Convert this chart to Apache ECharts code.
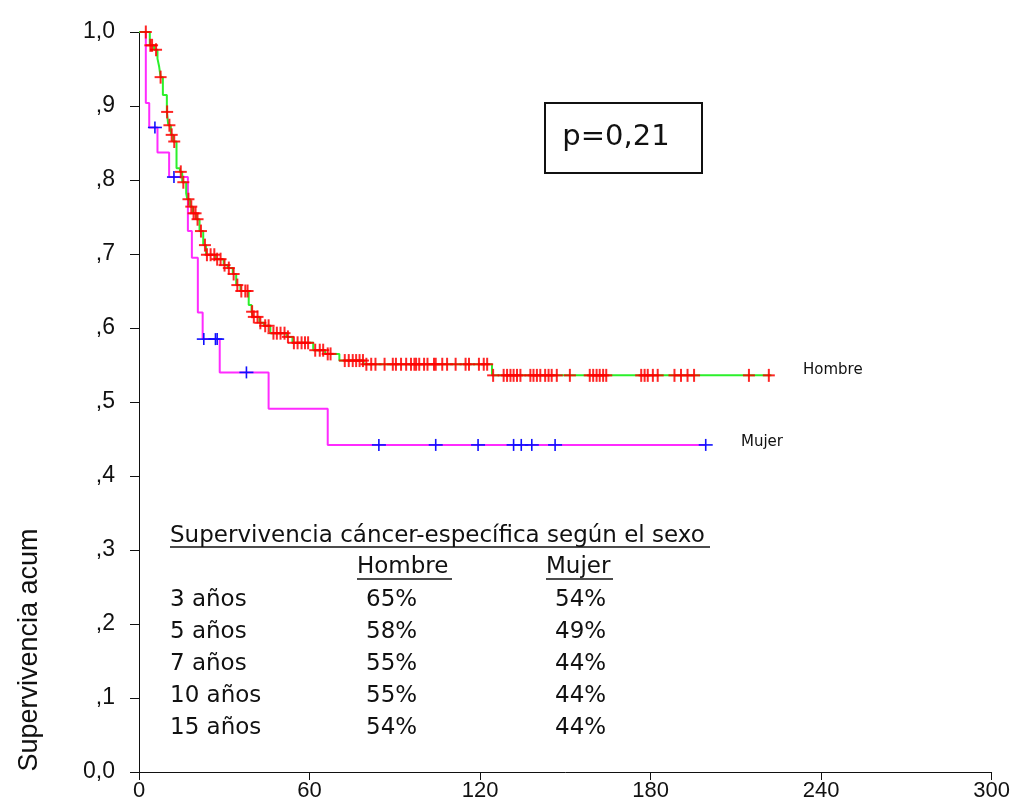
<!DOCTYPE html>
<html>
<head>
<meta charset="utf-8">
<script src="https://cdn.jsdelivr.net/npm/echarts@6/dist/echarts.min.js"></script>
<style>
  html, body { margin: 0; padding: 0; background: #fff; }
  #chart { width: 1013px; height: 809px; }
</style>
</head>
<body>
<div id="chart"></div>
<script>
// Kaplan-Meier: tiempos (meses) de cada escalón y nivel de supervivencia tras él
var hombreTimes  = [0, 3.8, 5.3, 6.5, 7.1, 7.6, 8.4, 9.8, 10.3, 11.2, 12.0, 13.2, 14.4, 15.2, 16.6, 17.0, 18.0, 19.0, 20.2, 21.3, 22.6, 23.6, 27.0, 29.8, 31.2, 33.0, 34.2, 35.7, 38.6, 39.6, 40.1, 42.4, 44.0, 46.2, 52.0, 54.0, 61.3, 65.5, 70.5, 79.0, 124.2];
var hombreLevels = [1.0, 0.982, 0.976, 0.964, 0.953, 0.939, 0.915, 0.892, 0.874, 0.861, 0.852, 0.816, 0.811, 0.797, 0.782, 0.774, 0.764, 0.755, 0.747, 0.731, 0.712, 0.699, 0.693, 0.685, 0.681, 0.673, 0.658, 0.650, 0.631, 0.622, 0.615, 0.607, 0.603, 0.593, 0.588, 0.580, 0.570, 0.565, 0.556, 0.551, 0.536];
var hombreEnd = 222.5;
var hombreCensored = [2.4, 4.0, 4.6, 6.0, 7.6, 9.9, 10.7, 11.5, 12.4, 14.7, 15.6, 17.4, 18.4, 19.2, 19.9, 20.6, 21.8, 23.2, 23.9, 25.2, 26.5, 27.5, 28.7, 30.1, 31.6, 33.3, 34.6, 36.0, 37.4, 38.2, 39.8, 40.4, 41.7, 42.7, 44.4, 45.6, 47.3, 48.5, 49.8, 51.2, 52.4, 54.5, 55.8, 57.2, 58.4, 59.5, 62.0, 63.6, 64.8, 66.4, 67.4, 72.4, 73.8, 75.2, 76.4, 77.6, 78.8, 80.0, 81.7, 83.2, 86.4, 89.3, 90.4, 92.2, 94.0, 95.7, 96.9, 97.5, 98.6, 100.3, 101.5, 103.8, 104.4, 106.7, 108.4, 111.4, 114.9, 116.1, 119.6, 121.3, 122.5, 124.6, 128.3, 129.5, 130.7, 131.8, 133.0, 134.2, 137.7, 138.8, 140.0, 141.2, 142.9, 144.1, 145.2, 147.0, 151.6, 158.6, 159.8, 161.0, 162.1, 163.3, 164.4, 176.7, 177.9, 179.0, 180.8, 182.5, 188.4, 190.7, 193.0, 195.3, 214.6, 221.6];

var mujerTimes  = [0, 2.4, 3.6, 6.5, 10.6, 17.2, 18.6, 20.7, 22.4, 28.4, 45.6, 66.4];
var mujerLevels = [1.0, 0.904, 0.871, 0.837, 0.804, 0.731, 0.695, 0.621, 0.585, 0.540, 0.491, 0.442];
var mujerEnd = 199.4;
var mujerCensored = [5.6, 12.3, 22.8, 26.9, 27.5, 37.8, 84.4, 104.4, 119.3, 131.8, 134.5, 138.2, 146.4, 199.4];

var xTicks = [0, 60, 120, 180, 240, 300];

var tableTitle = 'Supervivencia cáncer-específica según el sexo';
var tableGroups = ['Hombre', 'Mujer'];
var tableYears = ['3 años', '5 años', '7 años', '10 años', '15 años'];
var hombrePct = ['65%', '58%', '55%', '55%', '54%'];
var mujerPct = ['54%', '49%', '44%', '44%', '44%'];
var pValue = 'p=0,21';

function stepData(times, levels, end) {
  var d = [];
  for (var i = 0; i < times.length; i++) d.push([times[i], levels[i]]);
  d.push([end, levels[levels.length - 1]]);
  return d;
}
function levelAt(times, levels, t) {
  var v = levels[0];
  for (var i = 0; i < times.length; i++) if (times[i] <= t) v = levels[i];
  return v;
}
function censorData(times, levels, cens) {
  return cens.map(function (t) { return [t, levelAt(times, levels, t)]; });
}
function plusRenderer(color, w, h, lw) {
  return function (params, api) {
    var p = api.coord([api.value(0), api.value(1)]);
    return {
      type: 'group',
      children: [
        { type: 'line', shape: { x1: p[0] - w / 2, y1: p[1], x2: p[0] + w / 2, y2: p[1] }, style: { stroke: color, lineWidth: lw } },
        { type: 'line', shape: { x1: p[0], y1: p[1] - h / 2, x2: p[0], y2: p[1] + h / 2 }, style: { stroke: color, lineWidth: lw } }
      ]
    };
  };
}

var textFont = "'DejaVu Sans', sans-serif";
var axisFont = "'Liberation Sans', Arial, sans-serif";
var graphics = [];

var rowY0 = 589, rowStep = 32;
graphics.push({ type: 'text', x: 170, y: 525, style: { text: tableTitle, font: '23px ' + textFont, fill: '#111' } });
graphics.push({ type: 'line', shape: { x1: 170, y1: 547, x2: 710, y2: 547 }, style: { stroke: '#111', lineWidth: 1.5 } });
graphics.push({ type: 'text', x: 357, y: 556, style: { text: tableGroups[0], font: '23px ' + textFont, fill: '#111' } });
graphics.push({ type: 'line', shape: { x1: 357, y1: 579, x2: 452, y2: 579 }, style: { stroke: '#111', lineWidth: 1.5 } });
graphics.push({ type: 'text', x: 546, y: 556, style: { text: tableGroups[1], font: '23px ' + textFont, fill: '#111' } });
graphics.push({ type: 'line', shape: { x1: 546, y1: 579, x2: 613, y2: 579 }, style: { stroke: '#111', lineWidth: 1.5 } });
tableYears.forEach(function (yr, i) {
  var y = rowY0 + i * rowStep;
  graphics.push({ type: 'text', x: 170, y: y, style: { text: yr, font: '23px ' + textFont, fill: '#111' } });
  graphics.push({ type: 'text', x: 366, y: y, style: { text: hombrePct[i], font: '23px ' + textFont, fill: '#111' } });
  graphics.push({ type: 'text', x: 555, y: y, style: { text: mujerPct[i], font: '23px ' + textFont, fill: '#111' } });
});
// recuadro del valor p
graphics.push({ type: 'rect', shape: { x: 545, y: 103, width: 157, height: 70 }, style: { fill: '#fff', stroke: '#111', lineWidth: 2 } });
graphics.push({ type: 'text', x: 616, y: 137, style: { text: pValue, font: '29px ' + textFont, fill: '#111', align: 'center', verticalAlign: 'middle' } });
// etiquetas de las curvas
graphics.push({ type: 'text', x: 803, y: 370, style: { text: 'Hombre', font: '15px ' + textFont, fill: '#111', verticalAlign: 'middle' } });
graphics.push({ type: 'text', x: 741, y: 442, style: { text: 'Mujer', font: '15px ' + textFont, fill: '#111', verticalAlign: 'middle' } });
// título del eje Y
graphics.push({ type: 'text', x: 30, y: 650, rotation: Math.PI / 2, style: { text: 'Supervivencia acum', font: '27px ' + axisFont, fill: '#111', align: 'center', verticalAlign: 'middle' } });

var myChart = echarts.init(document.getElementById('chart'));

var option = {
  animation: false,
  backgroundColor: '#fff',
  grid: { left: 139, right: 17, top: 32, bottom: 37 },
  xAxis: {
    type: 'value', min: xTicks[0], max: xTicks[xTicks.length - 1], interval: 60,
    axisLine: { lineStyle: { color: '#111', width: 1 } },
    axisTick: { show: true, length: 8, lineStyle: { color: '#111' } },
    axisLabel: { color: '#111', fontSize: 22, fontFamily: axisFont, margin: 8 },
    splitLine: { show: false }
  },
  yAxis: {
    type: 'value', min: 0, max: 1, interval: 0.1,
    axisLine: { show: true, lineStyle: { color: '#111', width: 1 } },
    axisTick: { show: true, length: 9, lineStyle: { color: '#111' } },
    axisLabel: {
      color: '#111', fontSize: 23, fontFamily: axisFont, margin: 24,
      formatter: function (v) {
        if (v === 0) return '0,0';
        if (v === 1) return '1,0';
        return ',' + Math.round(v * 10);
      }
    },
    splitLine: { show: false }
  },
  series: [
    {
      name: 'Mujer', type: 'line', step: 'end', symbol: 'none',
      lineStyle: { color: '#ff2bff', width: 2 },
      data: stepData(mujerTimes, mujerLevels, mujerEnd), z: 2
    },
    {
      name: 'Hombre', type: 'line', step: 'end', symbol: 'none',
      lineStyle: { color: '#2bf02b', width: 2 },
      data: stepData(hombreTimes, hombreLevels, hombreEnd), z: 3
    },
    {
      name: 'Mujer censurado', type: 'custom',
      renderItem: plusRenderer('#1010ff', 14, 12, 1.6),
      data: censorData(mujerTimes, mujerLevels, mujerCensored), z: 4
    },
    {
      name: 'Hombre censurado', type: 'custom',
      renderItem: plusRenderer('rgba(255,0,0,0.85)', 12, 13, 2),
      data: censorData(hombreTimes, hombreLevels, hombreCensored), z: 5
    }
  ],
  graphic: graphics
};

myChart.setOption(option);
</script>
</body>
</html>
